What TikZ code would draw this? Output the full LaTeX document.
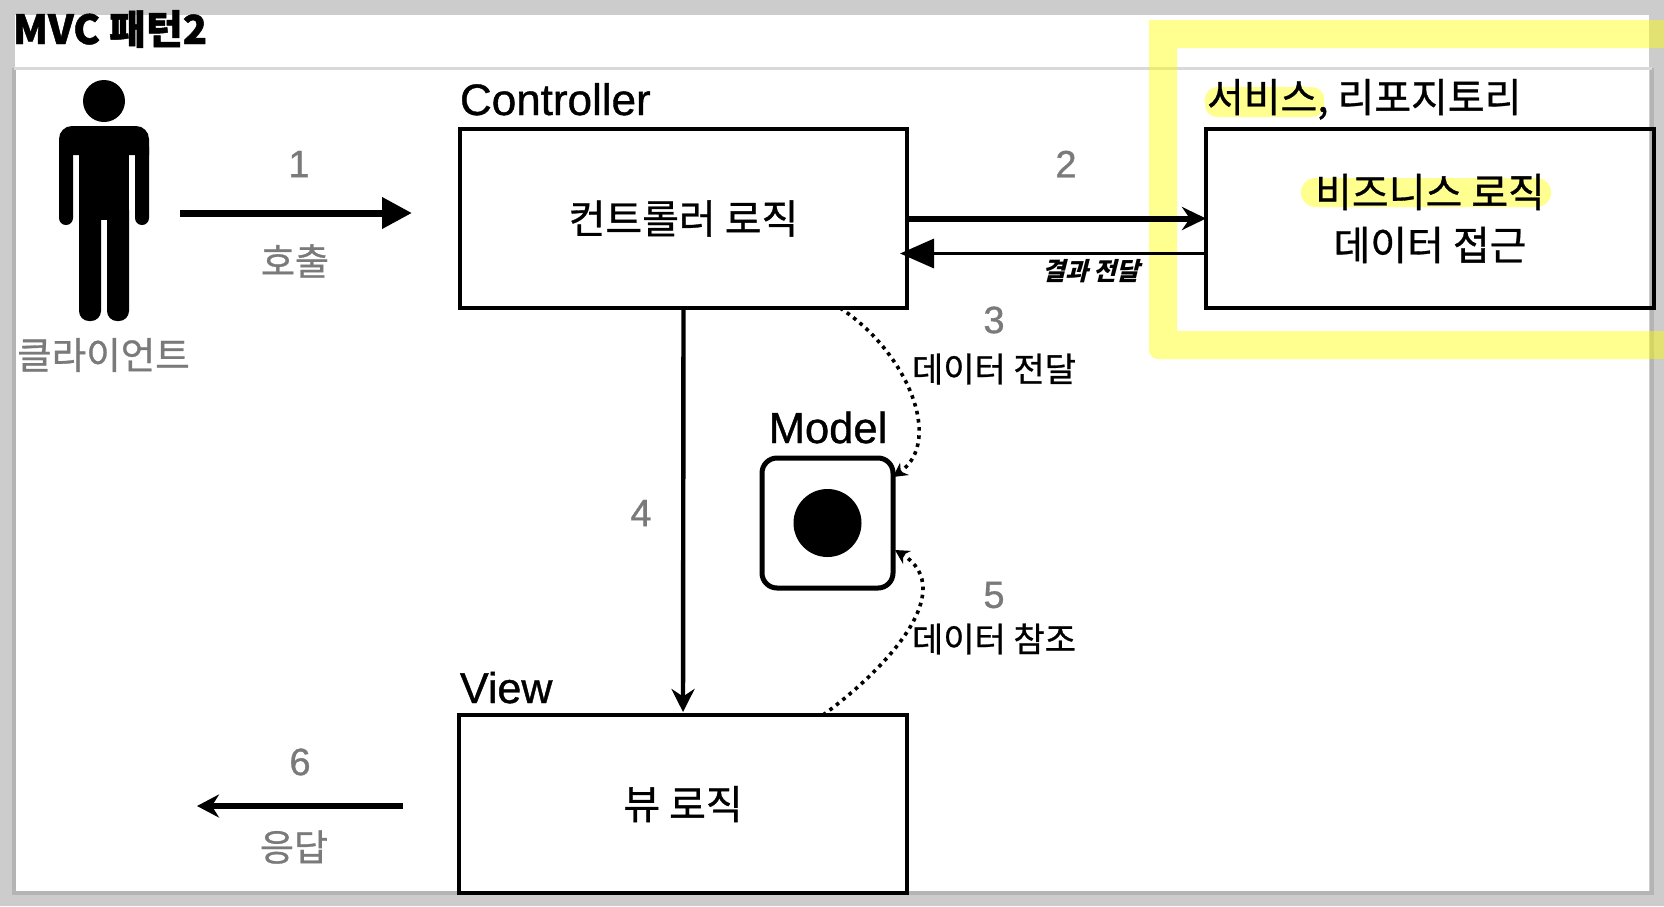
\documentclass[tikz,border=0pt]{standalone}
\usepackage{fontspec}
\setmainfont[FakeBold=0.9]{Liberation Sans}
\newfontfamily\krfont[FakeBold=0.8,BoldFeatures={FakeBold=1.2}]{Noto Sans CJK KR}
\newfontfamily\handfont[FakeSlant=0.25]{Noto Sans CJK KR}
\usetikzlibrary{arrows.meta}
\definecolor{panelgray}{HTML}{CCCCCC}
\definecolor{edgegray}{HTML}{B4B4B4}
\definecolor{topgray}{HTML}{D9D9D9}
\definecolor{notegray}{HTML}{7A7A7A}
\definecolor{markyellow}{HTML}{FFFF90}
\definecolor{frameyellow}{HTML}{FFFF00}

\begin{document}
\begin{tikzpicture}[
  x=1pt, y=-1pt,
  every node/.style={inner sep=0pt, outer sep=0pt},
  box/.style={draw, line width=4.4pt, minimum width=447pt,
              minimum height=179pt, font=\fontsize{40}{53}\selectfont\krfont, align=center},
  heading/.style={anchor=base west, font=\fontsize{43.5}{50}\selectfont},
  number/.style={text=notegray, font=\fontsize{38}{44}\selectfont},
  graylabel/.style={text=notegray, font=\fontsize{37}{44}\selectfont\krfont},
  datalabel/.style={font=\fontsize{34}{40}\selectfont\krfont},
  dotarrow/.style={line width=3.6pt, dash pattern=on 3.6pt off 4.6pt, -{Stealth[length=14pt, width=15pt]}},
]
  % Page and panel
  \useasboundingbox (0,0) rectangle (1664,906);
  \fill[panelgray] (0,0) rectangle (1664,906);
  \fill[white] (15,15) rectangle (1649,893);
  \draw[edgegray, line width=3.5pt] (14,68) -- (14,893) -- (1652,893) -- (1652,68);
  \draw[topgray, line width=3pt] (14,68) -- (1652,68);
  \node[anchor=base west, font=\fontsize{40}{44}\selectfont\krfont\bfseries] (title) at (13,44) {MVC 패턴2};

  % Yellow marks
  \fill[frameyellow, opacity=.44, even odd rule]
    (1664,20) -- (1149,20) [rounded corners=9pt] -- (1149,359) [sharp corners] -- (1664,359) -- cycle
    (1177,48) rectangle (1664,331);
  \fill[markyellow, rounded corners=12pt] (1205,87) rectangle (1324,117);
  \fill[markyellow, rounded corners=14pt] (1301,178) rectangle (1551,207);

  % Client figure
  \fill (104,101) circle (21);
  \fill (59,155) [rounded corners=13pt] -- (59,126) -- (149,126) [sharp corners] -- (149,155) -- cycle;
  \fill[rounded corners=7pt] (59,140) rectangle (73,225);
  \fill[rounded corners=7pt] (135,140) rectangle (149,225);
  \fill (79,126) rectangle (129,220);
  \fill[rounded corners=10pt] (79,200) rectangle (101,321);
  \fill[rounded corners=10pt] (107,200) rectangle (129,321);
  \node[minimum width=90pt, minimum height=266pt] (person) at (104,213) {};
  \node[graylabel, font=\fontsize{37.5}{44}\selectfont\krfont] (clientlabel) at (103.5,355) {클라이언트};

  % Boxes
  \node[box] (ctrl) at (683.5,218.5) {\raisebox{2pt}{컨트롤러 로직}};
  \node[box, minimum width=448pt] (service) at (1430,218.5) {비즈니스 로직\\데이터 접근};
  \node[box, minimum width=448pt, minimum height=178pt] (view) at (683,804) {뷰 로직};
  \node[heading, font=\fontsize{44}{50}\selectfont] (ctrltitle) at (460,115) {Controller};
  \node[heading, font=\fontsize{43}{50}\selectfont] (viewtitle) at (460,703) {View};
  \node[anchor=base west, font=\fontsize{40}{44}\selectfont\krfont] (servicetitle) at (1207,112) {서비스, 리포지토리};

  % Model
  \node[draw, line width=5pt, rounded corners=15pt, minimum width=131pt,
        minimum height=130pt] (model) at (827.5,523) {};
  \fill (model.center) circle (34);
  \node[heading, anchor=base] (modeltitle) at (828,443) {Model};

  % Main arrows
  \draw[line width=7pt, shorten <=31pt, shorten >=48pt, -{Triangle[length=30pt, width=30pt]}]
    (person.east) -- (person.east -| ctrl.west);
  \draw[line width=6pt, -{Stealth[length=24pt, width=23pt]}] (ctrl.east) -- (service.west);
  \draw[line width=3.4pt, shorten >=-7pt, -{Triangle[length=34pt, width=29pt]}]
    ([yshift=-35pt]service.west) -- ([yshift=-35pt]ctrl.east);
  \draw[line width=4.4pt, shorten >=3pt, -{Stealth[length=23pt, width=23pt]}] (ctrl.south) -- (view.north);
  \coordinate (respend) at (197,806);
  \draw[line width=6.5pt, shorten <=56pt, -{Stealth[length=22pt, width=23pt]}] (view.west |- respend) -- (respend);

  % Data arrows
  \draw[dotarrow] ([xshift=-67pt]ctrl.south east) .. controls (905,350) and (945,440) .. ([yshift=-19pt]model.north east);
  \draw[dotarrow] ([xshift=-84pt]view.north east) .. controls (885,670) and (960,590) .. ([xshift=2pt,yshift=38pt]model.south east);

  % Labels
  \node[number] (n1) at (299,164) {1};
  \node[graylabel] (callabel) at (295,261) {호출};
  \node[number] (n2) at (1066,164) {2};
  \node[font=\fontsize{25}{28}\selectfont\handfont\bfseries] (resultlabel) at (1091,271) {결과 전달};
  \node[number] (n3) at (994,320) {3};
  \node[datalabel] (passlabel) at (994,369) {데이터 전달};
  \node[number] (n4) at (641,513) {4};
  \node[number] (n5) at (994,595) {5};
  \node[datalabel] (reflabel) at (994,639) {데이터 참조};
  \node[number] (n6) at (300,762) {6};
  \node[graylabel] (resplabel) at (294,847) {응답};
\end{tikzpicture}
\end{document}
